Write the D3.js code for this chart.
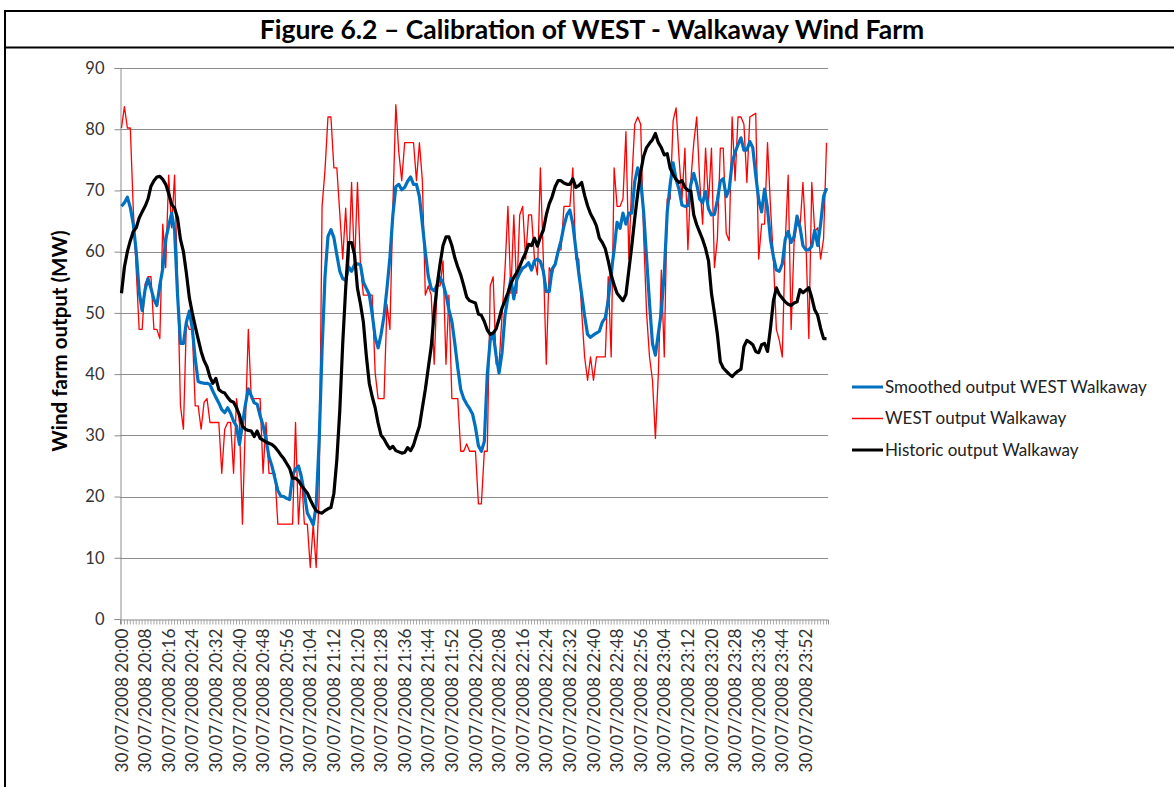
<!DOCTYPE html>
<html>
<head>
<meta charset="utf-8">
<script src="https://cdn.jsdelivr.net/npm/d3@7"></script>
<style>
  body { margin: 0; background: #fff; }
  svg { display: block; }
  text { font-family: Lato, "Open Sans", sans-serif; }
</style>
</head>
<body>
<svg id="chart" width="1174" height="787"></svg>
<script>
// one reading per minute, 20:00 .. 23:59
const smoothed = [
  67.4,68,68.9,67.2,64.5,60,53.5,50.4,53.8,55.6, 54,52.2,51.2,54.5,57.2,62,64.2,66.3,63.5,53,
  45,45,48.5,50.3,47.5,42.5,38.8,38.6,38.5,38.5, 38.3,37.2,36.2,35.3,34.2,33.7,34.5,33.6,32.3,31.5,
  28.5,31.8,35,37.6,36.5,35.3,35.1,33.2,31.6,29.3, 26.5,25,23,21,20.1,20,19.7,19.5,23.5,24.5,
  25,23.2,20.5,17.3,16.4,15.4,18.5,29,44,56, 62.5,63.6,62.3,59.5,56.8,55.6,55.3,57.5,56.8,57.9,
  58,57.9,55,54,53,49.8,46,44.3,46.5,49.5, 54,59.1,66,70.6,71,70.1,70.5,71.5,72.2,71,
  71,69,64.5,60,56,54,53.6,54.5,55.8,54.8, 53,50.5,48.6,45,41,37.5,36,35.1,34.4,33.5,
  31.3,28.3,27.4,29,40,45.5,46.7,43,40.2,43.5, 49.6,52.6,55.6,52.3,55.4,56.5,57.3,57.6,58.2,57,
  58.5,58.8,58.4,56.8,53.5,53.5,57.2,57.9,60,61.8, 64.2,66,66.8,64.5,60.5,56.5,53,49.5,46.5,46,
  46.4,46.7,47,48.5,49.2,52,56.5,60.3,64.8,63.8, 66.3,64.5,66.3,66.3,71.5,73.7,71.6,66.5,59,51.5,
  45,43.1,46.7,50.2,56.5,66.5,71,74.5,71.8,70.2, 67.6,67.4,67.5,71,72.8,71,68.6,68,69.8,67,
  66,66.1,68.4,71.5,71.9,69,70.2,74.5,76.2,77.5, 78.6,76.6,76.6,78,77,72.5,68.5,66.5,70.2,67,
  62,59.2,57,56.8,58,62,63.3,61.5,62.5,65.8, 64,61,60.3,60.3,60.9,63.5,61,64.5,69,70.4
];

const west = [
  80.2,83.7,80.2,80.2,67,57,47.3,47.3,54.7,55.9, 55.9,47.3,47.3,45.8,64.5,57.4,72.5,63.9,72.5,55.6,
  34.8,31,48.5,47.3,47.3,34.8,34.8,31,35.4,36, 32.1,32.1,32.1,32.1,23.8,31,32.1,32.1,23.8,36,
  31.9,15.5,31.9,47.3,36,36,36,36,23.8,32.1, 23.8,23.8,23.8,15.5,15.5,15.5,15.5,15.5,15.5,32.1,
  15.5,23.8,15.5,15.5,8.4,15.5,8.4,20,67.4,73.4, 82,82,73.7,73.7,66.3,58.8,67.1,57.4,71.3,57.4,
  71.3,57.9,52.9,52.9,52.9,52.9,40.2,36,36,36, 51.4,47.3,67.4,84,76.3,71.6,77.8,77.8,77.8,77.8,
  71.6,77.8,71.6,52.9,54.4,52.9,41.6,54.4,54.4,58.5, 41.6,52.9,36,36,36,27.4,27.4,28.6,27.4,27.4,
  27.4,18.8,18.8,27.4,27.4,54.4,55.9,41.6,41.6,49.6, 57,67.4,53.2,66,53.2,66,67.4,58.8,66,66,
  58.8,56.2,73.7,58.8,41.6,57.4,56.2,58.2,60.3,60.3, 67.4,67.4,67.4,73.7,58.8,58.8,50.2,42.8,39,42.8,
  39,42.8,42.8,42.8,42.8,55.9,42.8,73.7,67.4,67.4, 68.6,79.6,58.8,71.6,80.8,82,80.8,62.7,50,42.8,
  39,29.5,40.2,57,42.8,68.6,68.6,81.4,83.5,75.4, 68.6,76.9,60.3,71.6,77.8,82,71.6,64.5,76.9,68,
  76.9,57.4,62.1,76.9,76.9,63,61.8,82,71.6,82, 82,80.8,71.3,82,82.3,82.6,58.8,64.5,64.5,77.8,
  67.4,58.8,47.3,45.5,42.8,61.5,72.5,47.3,61.5,64.5, 63.9,71.3,62.1,45.8,71.3,63.3,63.9,58.8,62.1,77.8
];

const historic = [
  53.2,57.5,60,61.8,63.3,63.9,65.5,66.5,67.4,68.6, 70.7,71.6,72.2,72.3,71.8,71,69.5,67.7,67.1,65.5,
  62,60,56.5,52.5,50,47.8,45.7,43.7,42.2,41.2, 39.5,38.5,39.3,37.5,37.1,36.9,36.2,35.6,35.4,34.5,
  33.3,31.5,31,30.8,30.7,29.8,30.7,29.5,29.2,28.9, 28.7,28.5,28.1,27.5,26.8,26.2,25.4,24.6,23,23,
  22.6,21.8,21.2,20.6,19.5,18.5,17.7,17.4,17.3,17.7, 18,18.2,20.5,26,34,45,54,61.5,61.5,59.5,
  54,51.5,48.5,43,38.5,36.3,34.5,32,30,29.4, 28.5,27.8,28.2,27.5,27.3,27.1,27.2,28,27.5,28.4,
  30,31.5,34.5,37.5,41,44.5,50,54.5,58,61, 62.4,62.4,61,59,57.5,56.2,54.5,52.6,52,51.8,
  51.6,49.8,49.6,48.6,47.2,46.5,46.7,47.4,49,50.8, 52,53.3,54.8,55.8,56.6,57.6,58.8,59.8,61.2,61,
  62.2,60.9,62.4,63.5,66,67.8,69,70.6,71.6,71.6, 71.2,71,71,71.9,70.5,70.8,71.3,69.2,67.5,66.2,
  65.3,64.2,62.2,61.5,60.5,58.5,56.2,54.6,53.2,52.6, 52,53,57,61,65.5,69.5,73,75.6,77,77.7,
  78.3,79.3,77.8,77,75.8,76,73.6,72.6,71.8,71.3, 71.6,70.5,70,69.9,66,64.4,63.2,62,60.5,58.5,
  53.2,50,46.5,42,41,40.5,40,39.6,40.1,40.5, 40.8,44.5,45.5,45.2,44.8,43.7,43.5,44.8,45,43.7,
  47.5,52,54.1,53,52.4,51.8,51.4,51.2,51.6,51.8, 53.8,53.3,53.7,54.1,52.5,50.5,49.6,47.5,45.8,45.8
];

const yTicks = [0, 10, 20, 30, 40, 50, 60, 70, 80, 90];

// category labels "30/07/2008 HH:MM", one per minute
const categories = d3.range(240).map(m => {
  const h = 20 + Math.floor(m / 60), mm = m % 60;
  return "30/07/2008 " + h + ":" + (mm < 10 ? "0" : "") + mm;
});

const seriesList = [
  { name: "Smoothed output WEST Walkaway", values: smoothed, color: "#0070C0", width: 3.2 },
  { name: "WEST output Walkaway", values: west, color: "#FF0000", width: 1.3 },
  { name: "Historic output Walkaway", values: historic, color: "#000000", width: 3.2 }
];

const svg = d3.select("#chart");
const plot = { left: 120, right: 828, top: 68, bottom: 619 };

const x = d3.scaleBand().domain(categories).range([plot.left, plot.right]);
const y = d3.scaleLinear().domain([0, 90]).range([plot.bottom, plot.top]);

// frame + title
svg.append("path")
    .attr("d", "M5,787V11H1174M5,47.5H1174")
    .attr("fill", "none")
    .attr("stroke", "#000")
    .attr("stroke-width", 2);

svg.append("text")
    .attr("x", 592)
    .attr("y", 39)
    .attr("text-anchor", "middle")
    .style("font-size", "26.5px")
    .style("font-weight", "bold")
    .text("Figure 6.2 \u2013 Calibration of WEST - Walkaway Wind Farm");

// gridlines
svg.append("g")
  .selectAll("line")
  .data(yTicks.filter(d => d > 0))
  .join("line")
    .attr("x1", plot.left).attr("x2", plot.right)
    .attr("y1", d => Math.round(y(d)) + 0.5)
    .attr("y2", d => Math.round(y(d)) + 0.5)
    .attr("stroke", "#8c8c8c");

// y axis
const yAxis = svg.append("g")
    .attr("transform", `translate(${plot.left + 0.5},0)`)
    .call(d3.axisLeft(y).tickValues(yTicks).tickSize(6).tickPadding(10));
yAxis.select(".domain").attr("stroke", "#8c8c8c");
yAxis.selectAll(".tick line").attr("stroke", "#8c8c8c");
yAxis.selectAll("text")
    .style("font-family", "Lato, sans-serif")
    .style("font-size", "16.5px")
    .attr("fill", "#333");

// x axis
const xAxis = svg.append("g")
    .attr("transform", `translate(0,${plot.bottom + 0.5})`)
    .call(d3.axisBottom(x).tickSize(5).tickPadding(0)
      .tickFormat((d, i) => i % 8 === 0 ? d : ""));
xAxis.select(".domain").attr("stroke", "#8c8c8c");
xAxis.selectAll(".tick line").attr("stroke", "#a6a6a6");
xAxis.selectAll("text")
    .style("font-family", "Lato, sans-serif")
    .style("font-size", "17.2px")
    .attr("fill", "#333")
    .attr("text-anchor", "end")
    .attr("dy", "0.35em")
    .attr("transform", "translate(0,9) rotate(-90)")
    .attr("y", 0)
    .attr("x", 0);

// y title
svg.append("text")
    .attr("transform", "translate(67,341) rotate(-90)")
    .attr("text-anchor", "middle")
    .style("font-size", "20.5px")
    .style("font-weight", "bold")
    .text("Wind farm output (MW)");

// series
const line = d3.line()
    .x((d, i) => x(categories[i]) + x.bandwidth() / 2)
    .y(d => y(d));

svg.append("g")
  .selectAll("path")
  .data([seriesList[1], seriesList[0], seriesList[2]])
  .join("path")
    .attr("fill", "none")
    .attr("stroke", d => d.color)
    .attr("stroke-width", d => d.width)
    .attr("stroke-linejoin", "round")
    .attr("d", d => line(d.values));

// legend
const legend = svg.append("g")
  .selectAll("g")
  .data(seriesList)
  .join("g")
    .attr("transform", (d, i) => `translate(852,${387 + i * 31.5})`);

legend.append("line")
    .attr("x1", 0).attr("x2", 31)
    .attr("stroke", d => d.color)
    .attr("stroke-width", d => d.width > 2 ? 3 : 1.5);

legend.append("text")
    .attr("x", 33)
    .attr("dy", "0.35em")
    .style("font-size", "17px")
    .attr("fill", "#222")
    .text(d => d.name);
</script>
</body>
</html>
